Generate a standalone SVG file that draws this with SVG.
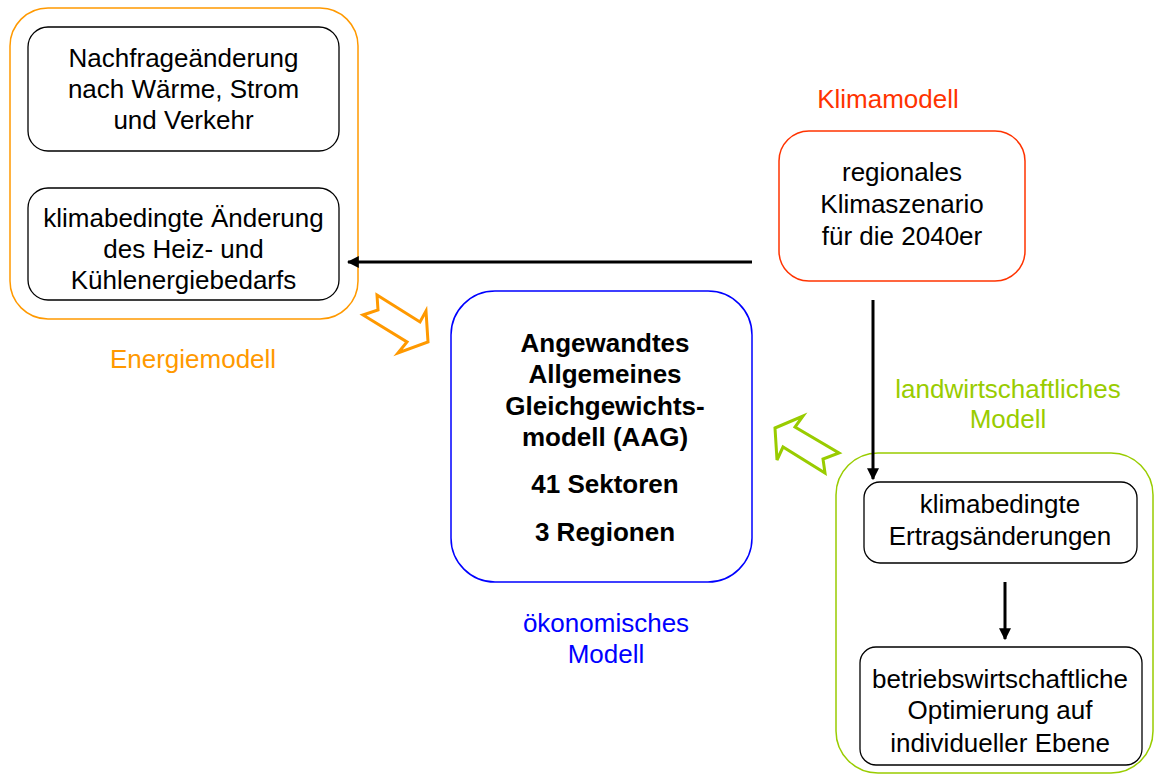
<svg xmlns="http://www.w3.org/2000/svg" width="1154" height="776" viewBox="0 0 1154 776">
<style>
text{font-family:"Liberation Sans",Arial,sans-serif;font-size:26px;text-anchor:middle;fill:#000}
.b{font-weight:bold}
.box{fill:#fff;stroke:#000;stroke-width:1.3}
.conn{stroke:#000;stroke-width:3;fill:none}
</style>
<defs>
<marker id="ah" viewBox="0 0 10 10" refX="9" refY="5" markerWidth="4" markerHeight="4" markerUnits="strokeWidth" orient="auto">
<path d="M0,0 L10,5 L0,10 Z" fill="#000"/>
</marker>
</defs>
<rect width="1154" height="776" fill="#fff"/>

<g id="energie">
<rect x="10" y="8" width="348" height="311" rx="38" fill="none" stroke="#FF9900" stroke-width="1.5"/>
<text x="193" y="368" style="fill:#FF9900">Energiemodell</text>
</g>
<g id="nachfrage">
<rect class="box" x="28" y="27" width="311" height="124" rx="20"/>
<text x="183.5" y="67">Nachfrageänderung</text>
<text x="183.5" y="98">nach Wärme, Strom</text>
<text x="183.5" y="129">und Verkehr</text>
</g>
<g id="heizkuehl">
<rect class="box" x="28" y="188" width="311" height="112" rx="20"/>
<text x="183.5" y="227">klimabedingte Änderung</text>
<text x="183.5" y="258">des Heiz- und</text>
<text x="183.5" y="289">Kühlenergiebedarfs</text>
</g>

<g id="klima">
<text x="888" y="108" style="fill:#FF3300">Klimamodell</text>
<rect x="779" y="131" width="246" height="150" rx="30" fill="#fff" stroke="#FF3300" stroke-width="1.5"/>
<text x="902" y="181">regionales</text>
<text x="902" y="213">Klimaszenario</text>
<text x="902" y="245">für die 2040er</text>
</g>

<g id="aag">
<rect x="451" y="291" width="301" height="291" rx="44" fill="#fff" stroke="#0000FF" stroke-width="1.5"/>
<text class="b" x="605" y="352">Angewandtes</text>
<text class="b" x="605" y="383">Allgemeines</text>
<text class="b" x="605" y="415">Gleichgewichts-</text>
<text class="b" x="605" y="446">modell (AAG)</text>
<text class="b" x="605" y="493">41 Sektoren</text>
<text class="b" x="605" y="541">3 Regionen</text>
<text x="606" y="632" style="fill:#0000FF">ökonomisches</text>
<text x="606" y="663" style="fill:#0000FF">Modell</text>
</g>

<g id="landwirtschaft">
<text x="1008" y="398" style="fill:#99CC00">landwirtschaftliches</text>
<text x="1008" y="428" style="fill:#99CC00">Modell</text>
<rect x="836" y="453" width="317" height="320" rx="42" fill="none" stroke="#99CC00" stroke-width="1.5"/>
</g>
<g id="ertrag">
<rect class="box" x="864" y="482" width="273" height="81" rx="16"/>
<text x="1000" y="513">klimabedingte</text>
<text x="1000" y="545">Ertragsänderungen</text>
</g>
<g id="betrieb">
<rect class="box" x="860" y="647" width="282" height="118" rx="16"/>
<text x="1000" y="688">betriebswirtschaftliche</text>
<text x="1000" y="719">Optimierung auf</text>
<text x="1000" y="752">individueller Ebene</text>
</g>

<g id="connectors">
<line class="conn" x1="752" y1="262" x2="348" y2="262" marker-end="url(#ah)"/>
<line class="conn" x1="873" y1="300" x2="873" y2="479" marker-end="url(#ah)"/>
<line class="conn" x1="1005" y1="582" x2="1005" y2="639" marker-end="url(#ah)"/>
<polygon points="377,295 420,322 426,311 428,342 398,353 407,342 363,315 378,310" fill="#fff" stroke="#FF9900" stroke-width="3" stroke-linejoin="miter"/>
<polygon points="775,428 803,416 795,427 839,453 823,459 825,473 783,447 777,460" fill="#fff" stroke="#99CC00" stroke-width="3" stroke-linejoin="miter"/>
</g>
</svg>
